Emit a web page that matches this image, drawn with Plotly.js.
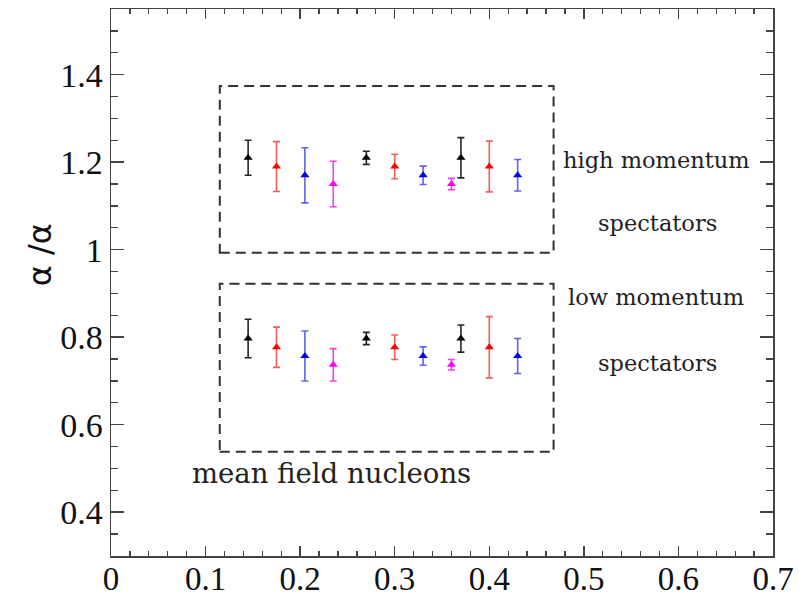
<!DOCTYPE html>
<html>
<head>
<meta charset="utf-8">
<script src="https://cdn.plot.ly/plotly-3.0.1.min.js"></script>
<style>html,body{margin:0;padding:0;background:#fff;}#chart{width:799px;height:596px;}</style>
</head>
<body>
<div id="chart"></div>
<script>
// x positions of the data points
const xPos = [0.145, 0.175, 0.205, 0.235, 0.27, 0.30, 0.33, 0.36, 0.37, 0.40, 0.43];
// colour group of each point
const group = ['black','red','blue','magenta','black','red','blue','magenta','black','red','blue'];
// high momentum spectators
const highVal = [1.21, 1.19, 1.17, 1.15, 1.21, 1.19, 1.17, 1.15, 1.21, 1.19, 1.17];
const highErr = [0.04, 0.057, 0.063, 0.052, 0.015, 0.028, 0.021, 0.013, 0.046, 0.058, 0.036];
// low momentum spectators
const lowVal = [0.797, 0.777, 0.757, 0.737, 0.797, 0.777, 0.757, 0.737, 0.797, 0.777, 0.757];
const lowErr = [0.044, 0.046, 0.057, 0.037, 0.014, 0.028, 0.021, 0.012, 0.031, 0.07, 0.04];
// dashed boxes [x0, x1, y0, y1]
const highBox = [0.115, 0.468, 0.993, 1.374];
const lowBox = [0.115, 0.468, 0.538, 0.922];
// labels
const labels = [
  {text: 'high momentum', x: 0.577, y: 1.205},
  {text: 'spectators', x: 0.578, y: 1.06},
  {text: 'low momentum', x: 0.576, y: 0.893},
  {text: 'spectators', x: 0.578, y: 0.74},
  {text: 'mean field nucleons', x: 0.233, y: 0.49}
];
const yTitle = 'α /α';
const xTicks = [0, 0.1, 0.2, 0.3, 0.4, 0.5, 0.6, 0.7];
const yTicks = [0.4, 0.6, 0.8, 1, 1.2, 1.4];

const markerColor = {black: '#000000', red: '#ff0000', blue: '#0000ee', magenta: '#ff00ff'};
const barColor = {black: 'rgba(0,0,0,0.85)', red: 'rgba(235,40,40,0.75)', blue: 'rgba(30,30,230,0.7)', magenta: 'rgba(235,0,235,0.75)'};

const traces = [];
['black','red','blue','magenta'].forEach(g => {
  const xs = [], ys = [], es = [];
  xPos.forEach((x, i) => {
    if (group[i] === g) {
      xs.push(x); ys.push(highVal[i]); es.push(highErr[i]);
      xs.push(x); ys.push(lowVal[i]); es.push(lowErr[i]);
    }
  });
  traces.push({
    type: 'scatter', mode: 'markers', x: xs, y: ys,
    marker: {symbol: 'triangle-up', size: 8, color: markerColor[g]},
    error_y: {type: 'data', array: es, visible: true, color: barColor[g], thickness: 1.6, width: 3.5},
    showlegend: false, hoverinfo: 'skip'
  });
});

function box(b) {
  return {type: 'rect', xref: 'x', yref: 'y', x0: b[0], x1: b[1], y0: b[2], y1: b[3],
    line: {color: '#333', width: 2, dash: '10px,6px'}, fillcolor: 'rgba(0,0,0,0)', layer: 'above'};
}

const annotations = labels.map((l, i) => ({
  x: l.x, y: l.y, xref: 'x', yref: 'y', text: l.text, showarrow: false,
  font: {family: 'DejaVu Serif', size: i === 4 ? 27.5 : 22.5, color: '#222'},
  xanchor: 'center', yanchor: 'middle'
}));
annotations.push({
  x: -0.107, y: 0.55, xref: 'paper', yref: 'paper', text: yTitle, showarrow: false,
  textangle: -90, font: {family: 'DejaVu Sans', size: 32, color: '#111'},
  xanchor: 'center', yanchor: 'middle'
});

const axisCommon = {
  showline: true, linecolor: '#444', linewidth: 1.5, mirror: 'allticks',
  ticks: 'inside', tickcolor: '#444', tickwidth: 1.5, ticklen: 13,
  showgrid: false, zeroline: false,
  tickfont: {family: 'Liberation Serif', size: 34, color: '#111'}
};

const layout = {
  width: 799, height: 596,
  margin: {l: 111, r: 26, t: 9, b: 40},
  paper_bgcolor: '#fff', plot_bgcolor: '#fff',
  xaxis: Object.assign({}, axisCommon, {
    range: [0, 0.7], tickvals: xTicks, ticktext: xTicks.map(v => String(v)),
    ticklen: 10, ticklabelstandoff: -7,
    tickfont: {family: 'Liberation Serif', size: 33, color: '#111'},
    minor: {dtick: 0.02, ticks: 'inside', ticklen: 5, tickcolor: '#444', tickwidth: 1.3, showgrid: false}
  }),
  yaxis: Object.assign({}, axisCommon, {
    range: [0.3, 1.55], tickvals: yTicks, ticktext: yTicks.map(v => String(v)),
    minor: {dtick: 0.05, ticks: 'inside', ticklen: 7, tickcolor: '#444', tickwidth: 1.3, showgrid: false}
  }),
  shapes: [box(highBox), box(lowBox)],
  annotations: annotations
};

Plotly.newPlot('chart', traces, layout, {displayModeBar: false, staticPlot: true});
</script>
</body>
</html>
